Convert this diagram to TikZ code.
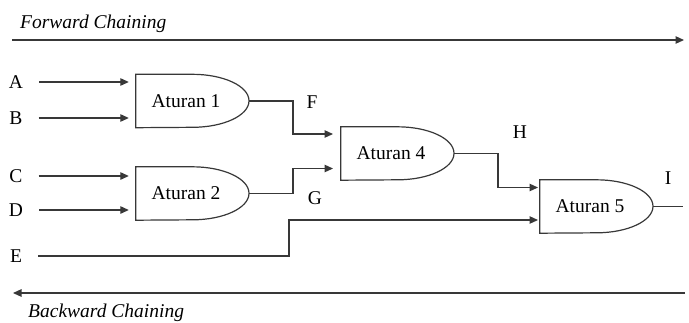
\documentclass[tikz,border=0pt]{standalone}
\usepackage{fontspec}
\setmainfont{Liberation Serif}
\usetikzlibrary{arrows.meta}

\tikzset{
  wire/.style={draw=black!78, line width=1.2pt},
  arr/.style={wire, -{Triangle[length=8.5pt,width=7.5pt]}},
  gatebox/.style={rectangle, minimum width=113pt, minimum height=53pt,
    inner sep=0pt, font=\fontsize{19.5}{22}\selectfont},
  sig/.style={inner sep=0pt, font=\fontsize{19.5}{22}\selectfont},
  dirlabel/.style={inner sep=0pt, anchor=base west,
    font=\fontsize{19.5}{22}\selectfont\itshape},
}

% draws the delay-shaped outline of a rule gate around node #1
\newcommand{\gateoutline}[1]{%
  \draw[wire] (#1.south west) -- (#1.north west) -- (#1.north)
    arc[start angle=90, end angle=-90, x radius=56.5pt, y radius=26.5pt] -- cycle;}

\begin{document}
\begin{tikzpicture}[x=1pt, y=-1pt]
  \useasboundingbox (0,0) rectangle (689,322);

  % direction of reasoning
  \coordinate (fwdS) at (12,40);
  \coordinate (fwdE) at (684,40);
  \draw[arr] (fwdS) -- (fwdE);
  \node[dirlabel] (fwdL) at (20,28) {Forward Chaining};

  \coordinate (bwdS) at (685,293);
  \coordinate (bwdE) at (13,293);
  \draw[arr] (bwdS) -- (bwdE);
  \node[dirlabel] (bwdL) at (28,317) {Backward Chaining};

  % rule gates
  \node[gatebox] (g1) at (192.5,101)   {Aturan 1\kern13pt};
  \node[gatebox] (g2) at (192.5,193.5) {Aturan 2\kern13pt};
  \node[gatebox] (g4) at (397.5,153.5) {Aturan 4\kern13pt};
  \node[gatebox] (g5) at (596.5,206.5) {Aturan 5\kern13pt};
  \gateoutline{g1}
  \gateoutline{g2}
  \gateoutline{g4}
  \gateoutline{g5}

  % input facts
  \node[sig] (A) at (16,82)  {A};
  \node[sig] (B) at (16,118) {B};
  \node[sig] (C) at (16,176) {C};
  \node[sig] (D) at (16,210) {D};
  \node[sig] (E) at (16,256) {E};

  \draw[arr] ([xshift=16pt]A.east) -- ([xshift=-7pt]A -| g1.west);
  \draw[arr] ([xshift=16pt]B.east) -- ([xshift=-7pt]B -| g1.west);
  \draw[arr] ([xshift=16pt]C.east) -- ([xshift=-7pt]C -| g2.west);
  \draw[arr] ([xshift=16pt]D.east) -- ([xshift=-7pt]D -| g2.west);

  % intermediate facts
  \coordinate (fK) at (293,101);
  \coordinate (gK) at (293,193.5);
  \coordinate (hK) at (498,153.5);
  \coordinate (eK) at (289,256);
  \coordinate (g4in1) at (333,134);
  \coordinate (g4in2) at (333,168.5);
  \coordinate (g5in1) at (538,187.5);
  \coordinate (g5in2) at (538,220);
  \coordinate (iEnd) at (683,206.5);

  \draw[arr] (g1.east) -- (fK) |- (g4in1);
  \draw[arr] (g2.east) -- (gK) |- (g4in2);
  \draw[arr] (g4.east) -- (hK) |- (g5in1);
  \draw[arr] ([xshift=16pt]E.east) -- (eK) |- (g5in2);
  \draw[wire] (g5.east) -- (iEnd);

  \node[sig] (F) at (312,102) {F};
  \node[sig] (G) at (315,198) {G};
  \node[sig] (H) at (520,132) {H};
  \node[sig] (I) at (668,178) {I};
\end{tikzpicture}
\end{document}
